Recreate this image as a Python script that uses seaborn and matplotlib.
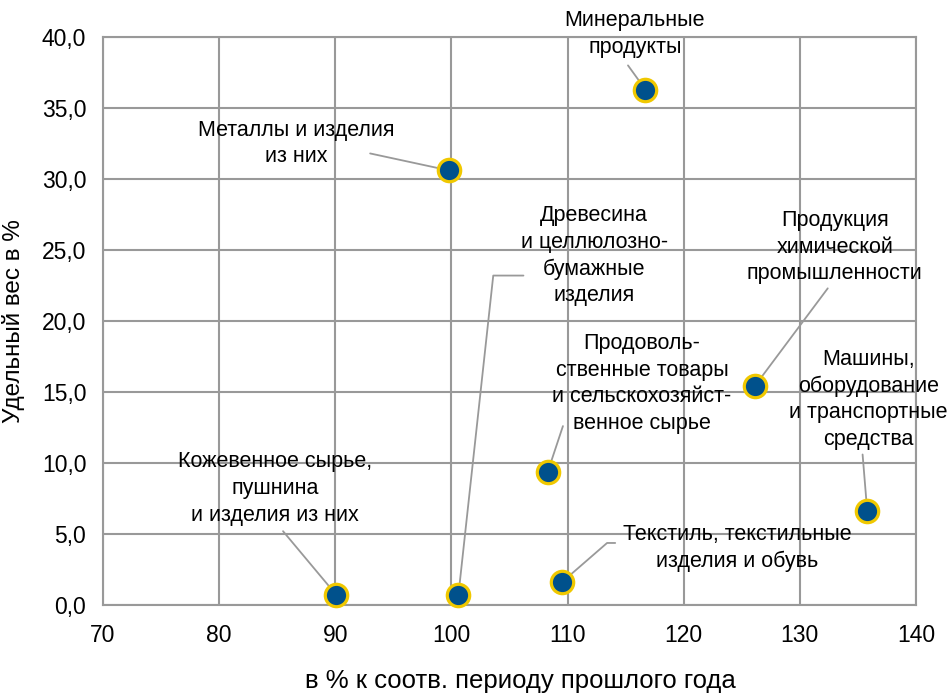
import matplotlib
matplotlib.use("Agg")
import matplotlib.pyplot as plt
import seaborn as sns
import pandas as pd
from matplotlib.ticker import FuncFormatter

# Data
groups = [
    "Минеральные\nпродукты",
    "Металлы и изделия\nиз них",
    "Древесина\nи целлюлозно-\nбумажные\nизделия",
    "Продукция\nхимической\nпромышленности",
    "Продоволь-\nственные товары\nи сельскохозяйст-\nвенное сырье",
    "Машины,\nоборудование\nи транспортные\nсредства",
    "Текстиль, текстильные\nизделия и обувь",
    "Кожевенное сырье,\nпушнина\nи изделия из них",
]
growth = [116.7, 99.8, 100.6, 126.1, 108.3, 135.8, 109.5, 90.1]
share = [36.3, 30.6, 0.7, 15.4, 9.4, 6.6, 1.6, 0.7]

df = pd.DataFrame({"group": groups, "growth": growth, "share": share})

# label positions (data coords) and leader line paths
label_pos = [(115.8, 40.2), (86.6, 32.5), (112.3, 24.6), (133.0, 25.2),
             (116.4, 15.6), (135.9, 14.5), (124.6, 4.0), (84.8, 8.2)]
leaders = [[(115.2, 38.0)], [(93.0, 31.8)], [(106.2, 23.2), (103.6, 23.2)],
           [(132.4, 22.3)], [(109.6, 12.6)], [(135.4, 10.6)],
           [(114.1, 4.37), (113.4, 4.37)], [(85.5, 5.2)]]

sns.set_style("white")
plt.rcParams["font.family"] = ["Liberation Sans", "DejaVu Sans"]

fig = plt.figure(figsize=(9.52, 6.94), dpi=100)
ax = fig.add_axes([0.1082, 0.1282, 0.854, 0.8185])

grid_col = "#999999"
for i, row in df.iterrows():
    path = leaders[i] + [(row["growth"], row["share"])]
    xs = [p[0] for p in path]
    ys = [p[1] for p in path]
    ax.plot(xs, ys, color=grid_col, lw=1.3, zorder=2, clip_on=False)
    ax.text(label_pos[i][0], label_pos[i][1], row["group"], ha="center", va="center",
            fontsize=15.5, linespacing=1.35, color="#000000", zorder=4, clip_on=False)

sns.scatterplot(data=df, x="growth", y="share", ax=ax, s=260, color="#00518C",
                edgecolor="#F0C800", linewidth=2.3, zorder=5, clip_on=False)

ax.set_xlim(70, 140)
ax.set_ylim(0, 40)
ax.set_xticks(range(70, 141, 10))
ax.set_yticks(range(0, 41, 5))
ax.yaxis.set_major_formatter(FuncFormatter(lambda v, p: f"{v:.1f}".replace(".", ",")))
ax.grid(True, color=grid_col, lw=1.5)
ax.set_axisbelow(True)
for s in ax.spines.values():
    s.set_color(grid_col)
    s.set_linewidth(1.5)
ax.tick_params(length=0, labelsize=16.5, pad=12, colors="#000000")
ax.tick_params(axis="x", pad=14)
ax.set_xlabel("в % к соотв. периоду прошлого года", fontsize=18.5, color="#000000")
ax.xaxis.set_label_coords(0.513, -0.112)
ax.set_ylabel("Удельный вес в %", fontsize=17.5, color="#000000")
ax.yaxis.set_label_coords(-0.096, 0.5)

fig.savefig("out.png", dpi=100)
